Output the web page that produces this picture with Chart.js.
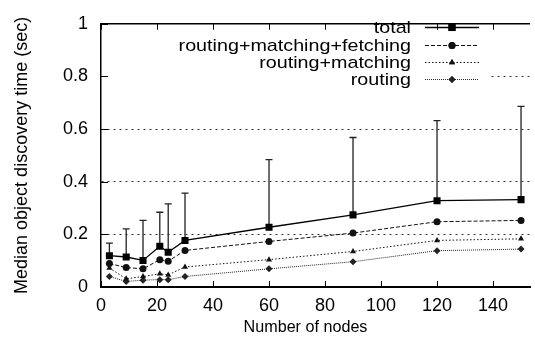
<!DOCTYPE html>
<html>
<head>
<meta charset="utf-8">
<script src="https://cdn.jsdelivr.net/npm/chart.js@4"></script>
<style>
  html, body { margin: 0; padding: 0; background: #fff; }
  #wrap { width: 535px; height: 337px; }
</style>
</head>
<body>
<div id="wrap"><canvas id="myChart" width="535" height="337"></canvas></div>
<script>
// valores
const nodes = [3, 9, 15, 21, 24, 30, 60, 90, 120, 150];
const total = [0.119, 0.114, 0.101, 0.155, 0.132, 0.177, 0.227, 0.274, 0.328, 0.332];
const totalUpper = [0.167, 0.221, 0.253, 0.284, 0.316, 0.357, 0.484, 0.568, 0.632, 0.686];
const fetching = [0.089, 0.074, 0.069, 0.104, 0.098, 0.139, 0.173, 0.205, 0.248, 0.253];
const matching = [0.072, 0.031, 0.040, 0.050, 0.046, 0.076, 0.104, 0.135, 0.177, 0.183];
const routing = [0.040, 0.021, 0.026, 0.028, 0.028, 0.040, 0.069, 0.096, 0.138, 0.144];
const xTicks = [0, 20, 40, 60, 80, 100, 120, 140];
const yTicks = [0, 0.2, 0.4, 0.6, 0.8, 1];
const xTitle = "Number of nodes";

const FONT = "'Liberation Sans', Arial, sans-serif";

const pts = (ys) => nodes.map((x, i) => ({ x: x, y: ys[i] }));

const series = [
  { label: "total", data: total, dash: [], style: "rect", r: 5, color: "#000", width: 1.3 },
  { label: "routing+matching+fetching", data: fetching, dash: [4, 2], style: "circle", r: 3.5, color: "#111", width: 1 },
  { label: "routing+matching", data: matching, dash: [1.5, 2], style: "triangle", r: 3.5, color: "#111", width: 1 },
  { label: "routing", data: routing, dash: [1, 1], style: "rectRot", r: 3.5, color: "#222", width: 1 },
];

// texto estirado en horizontal, como en la imagen original
const stretchText = (ctx, txt, x, y, sx) => {
  ctx.save();
  ctx.translate(x, y);
  ctx.scale(sx, 1);
  ctx.fillText(txt, 0, 0);
  ctx.restore();
};

const frame = {
  id: "frame",
  beforeDatasetsDraw(chart) {
    const { ctx, chartArea: a, scales } = chart;
    const x = scales.x, y = scales.y;
    ctx.save();
    // caja de leyenda opaca
    ctx.fillStyle = "#fff";
    ctx.fillRect(a.left + 1, a.top + 2, 388, 88);
    // barras de error (solo hacia arriba)
    ctx.strokeStyle = "#222";
    ctx.lineWidth = 1.3;
    nodes.forEach((n, i) => {
      const px = x.getPixelForValue(n);
      const y0 = y.getPixelForValue(total[i]);
      const y1 = y.getPixelForValue(totalUpper[i]);
      ctx.beginPath();
      ctx.moveTo(px, y0);
      ctx.lineTo(px, y1);
      ctx.moveTo(px - 3.5, y1);
      ctx.lineTo(px + 3.5, y1);
      ctx.stroke();
    });
    ctx.restore();
  },
  afterDraw(chart) {
    const { ctx, chartArea: a, scales } = chart;
    const x = scales.x, y = scales.y;
    ctx.save();
    ctx.strokeStyle = "#000";
    ctx.lineWidth = 1.5;
    ctx.beginPath();
    ctx.moveTo(a.left, a.top);
    ctx.lineTo(a.right, a.top);
    ctx.stroke();
    ctx.lineWidth = 1;
    xTicks.forEach((t) => {
      const px = Math.round(x.getPixelForValue(t)) + 0.5;
      ctx.beginPath();
      ctx.moveTo(px, a.bottom);
      ctx.lineTo(px, a.bottom - 6);
      ctx.moveTo(px, a.top);
      ctx.lineTo(px, a.top + 6);
      ctx.stroke();
    });
    yTicks.forEach((t) => {
      const py = Math.round(y.getPixelForValue(t)) + 0.5;
      ctx.beginPath();
      ctx.moveTo(a.left, py);
      ctx.lineTo(a.left + 7, py);
      ctx.stroke();
    });
    // titulo del eje x
    ctx.fillStyle = "#000";
    ctx.font = "17px " + FONT;
    ctx.textAlign = "center";
    ctx.textBaseline = "middle";
    stretchText(ctx, xTitle, 305.5, 327, 0.95);
    // leyenda
    const rows = [27, 45, 62, 79];
    ctx.font = "17px " + FONT;
    ctx.textAlign = "right";
    series.forEach((s, i) => {
      const ry = rows[i];
      ctx.fillStyle = "#000";
      stretchText(ctx, s.label, 411, ry + 1, 1.16);
      ctx.strokeStyle = s.color;
      ctx.lineWidth = s.width;
      ctx.setLineDash(s.dash);
      ctx.beginPath();
      ctx.moveTo(425, ry + 0.5);
      ctx.lineTo(479, ry + 0.5);
      ctx.stroke();
      ctx.setLineDash([]);
      ctx.fillStyle = s.color;
      Chart.helpers.drawPoint(ctx, { pointStyle: s.style, radius: s.r, rotation: 0, borderWidth: 0 }, 452, ry + 0.5);
      ctx.fill();
    });
    ctx.restore();
  },
};

new Chart(document.getElementById("myChart"), {
  type: "line",
  data: {
    datasets: series.map((s) => ({
      label: s.label,
      data: pts(s.data),
      borderColor: s.color,
      backgroundColor: s.color,
      borderWidth: s.width,
      borderDash: s.dash,
      pointStyle: s.style,
      pointRadius: s.r,
      pointBorderWidth: 0,
      tension: 0,
      fill: false,
    })),
  },
  options: {
    responsive: false,
    animation: false,
    layout: { padding: { top: 12, right: 0, left: 0, bottom: 0 } },
    plugins: { legend: { display: false }, tooltip: { enabled: false } },
    scales: {
      x: {
        type: "linear",
        min: 0,
        max: 153.2,
        afterFit: (s) => { s.height = 50; },
        afterBuildTicks: (s) => { s.ticks = xTicks.map((v) => ({ value: v })); },
        grid: { display: false, drawTicks: false },
        border: { display: true, color: "#000", width: 2 },
        ticks: { color: "#000", font: { family: FONT, size: 18 }, padding: 8, maxRotation: 0 },
      },
      y: {
        min: 0,
        max: 1,
        afterFit: (s) => { s.width = 101; },
        afterBuildTicks: (s) => { s.ticks = yTicks.map((v) => ({ value: v })); },
        grid: { color: "#333", lineWidth: 1, drawTicks: false },
        border: { display: true, color: "#000", width: 1.5, dash: [2, 4] },
        ticks: { color: "#000", font: { family: FONT, size: 18 }, padding: 13, callback: (v) => String(v) },
        title: { display: true, text: "Median object discovery time (sec)", color: "#000", font: { family: FONT, size: 18 }, padding: { top: 11, bottom: 0 } },
      },
    },
  },
  plugins: [frame],
});
</script>
</body>
</html>
